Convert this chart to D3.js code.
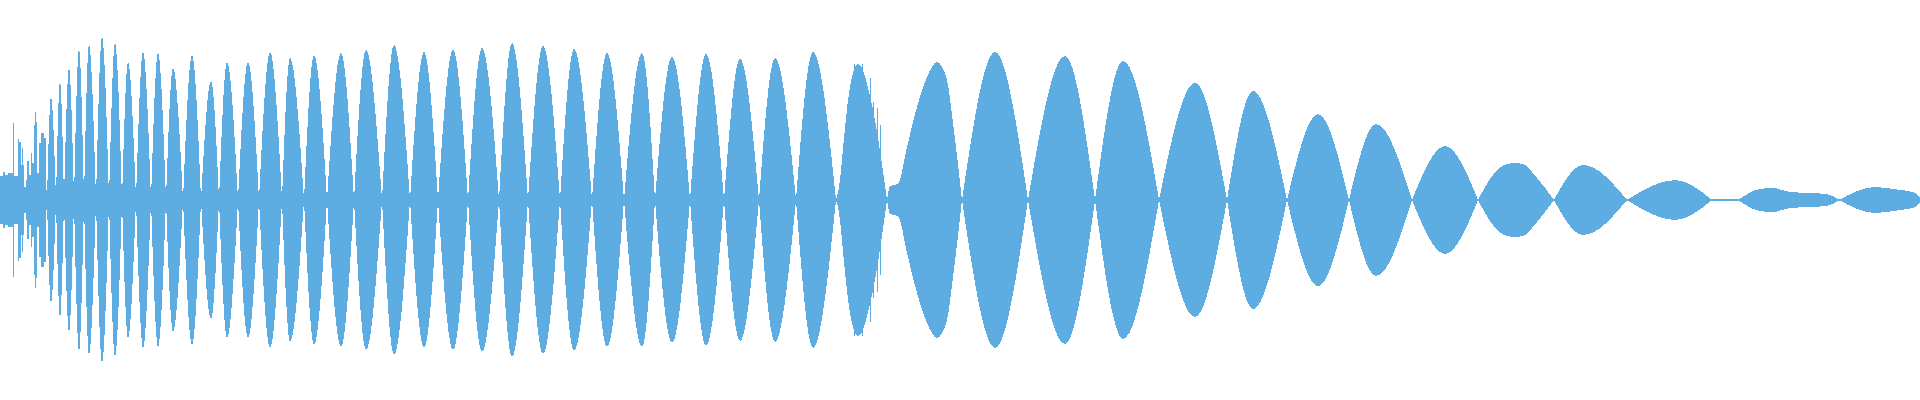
<!DOCTYPE html>
<html>
<head>
<meta charset="utf-8">
<script src="https://cdn.jsdelivr.net/npm/d3@7"></script>
<style>
  html, body { margin: 0; padding: 0; background: #fff; overflow: hidden; }
</style>
</head>
<body>
<div id="chart"></div>
<script>
// waveform of a 4.8 s clip, time in ms, amplitude as fraction of full scale

// noisy attack, one value per 2.5 ms column
const introStep = 2.5;
const introAmp = [.12, .12, .12, .14, .14, .125, .125, .125, .135, .135, .135, .135, .135, .385, .12, .12,
  .12, .12, .305, .29, .29, .175, .26, .175, .065, .065, .10, .195, .195, .125, .125, .235, .185, .185,
  .375, .44, .39, .135, .135, .285, .285, .335, .335, .335, .31, .31, .05];

// zero crossings of the envelope (lobe boundaries)
const nodeMs = [117.5, 140, 160, 185, 210, 240, 272.5, 305, 340, 377.5, 415, 457.5, 502.5, 547.5, 595,
  647.5, 705, 760, 817.5, 885, 955, 1025, 1095, 1170, 1247.5, 1320, 1400, 1480, 1560, 1637.5, 1725,
  1810, 1897.5, 1990, 2090, 2217.5, 2405, 2570, 2737.5, 2897.5, 3067.5, 3217.5, 3372.5, 3530, 3695,
  3885, 4067.5, 4280, 4345, 4597.5, 4805];

// one peak per lobe
const peakMs = [127.5, 150, 172.5, 197.5, 222.5, 255, 287.5, 320, 357.5, 395, 432.5, 480, 527.5, 567.5,
  620, 675, 725, 785, 852.5, 915, 985, 1060, 1132.5, 1205, 1280, 1357.5, 1435, 1517.5, 1605, 1680,
  1765, 1850, 1937.5, 2032.5, 2145, 2342.5, 2487.5, 2662.5, 2807.5, 2987.5, 3132.5, 3295, 3440,
  3612.5, 3787.5, 3957.5, 4187.5, 4312.5, 4432.5, 4687.5];
const peakAmp = [.515, .59, .66, .755, .775, .815, .785, .69, .74, .735, .66, .725, .595, .69, .69, .74,
  .71, .725, .735, .75, .775, .74, .75, .76, .785, .77, .755, .735, .735, .715, .73, .705, .71, .74,
  .68, .69, .74, .72, .695, .585, .545, .43, .38, .27, .185, .175, .10, .005, .06, .065];

// extra envelope points where a lobe is not a plain swell
const shapeMs = [2097.5, 2112.5, 2122.5, 2180, 2225, 2245, 2267.5, 2292.5, 2317.5, 2367.5, 2382.5,
  3732.5, 3767.5, 3807.5, 3842.5, 4400, 4475, 4525, 4567.5, 4750, 4782.5, 4797.5];
const shapeAmp = [.065, .36, .535, .475, .07, .08, .265, .465, .615, .6, .385,
  .125, .18, .18, .11, .055, .04, .035, .03, .05, .04, .02];

// single-column spikes sticking out of the rough lobe around 2.15 s
const spikeMs = [2133.75, 2153.75, 2173.75, 2182.5, 2192.5, 2200];
const spikeAmp = [.68, .68, .61, .49, .46, .375];

const width = 1920, height = 400;
const color = '#5dade2';

const svg = d3.select('#chart').append('svg')
  .attr('width', width)
  .attr('height', height)
  .attr('shape-rendering', 'crispEdges');

const x = d3.scaleLinear().domain([0, 4800]).range([0, width]);
const y = d3.scaleLinear().domain([-1, 1]).range([height, 0]);
const colW = x(introStep) - x(0);

// centre line
svg.append('line')
  .attr('x1', x(0)).attr('x2', x(4800))
  .attr('y1', y(0)).attr('y2', y(0))
  .attr('stroke', color)
  .attr('stroke-width', 2);

// attack columns
svg.append('g')
  .selectAll('rect')
  .data(introAmp)
  .enter().append('rect')
  .attr('x', (d, i) => x(i * introStep))
  .attr('width', colW)
  .attr('y', d => y(d))
  .attr('height', d => y(-d) - y(d))
  .attr('fill', color);

const lobes = peakMs.map((p, i) => {
  const t0 = nodeMs[i], t1 = nodeMs[i + 1];
  const pts = [[t0, 0], [p, peakAmp[i]], [t1, 0]];
  shapeMs.forEach((t, j) => {
    if (t > t0 && t < t1) pts.push([t, shapeAmp[j]]);
  });
  return pts.sort((a, b) => a[0] - b[0]);
});

const area = d3.area()
  .x(d => x(d[0]))
  .y0(d => y(-d[1]))
  .y1(d => y(d[1]))
  .curve(d3.curveMonotoneX);

svg.append('g')
  .selectAll('path')
  .data(lobes)
  .enter().append('path')
  .attr('d', area)
  .attr('fill', color);

svg.append('g')
  .selectAll('rect')
  .data(spikeMs)
  .enter().append('rect')
  .attr('x', d => x(d))
  .attr('width', colW)
  .attr('y', (d, i) => y(spikeAmp[i]))
  .attr('height', (d, i) => y(-spikeAmp[i]) - y(spikeAmp[i]))
  .attr('fill', color);
</script>
</body>
</html>
